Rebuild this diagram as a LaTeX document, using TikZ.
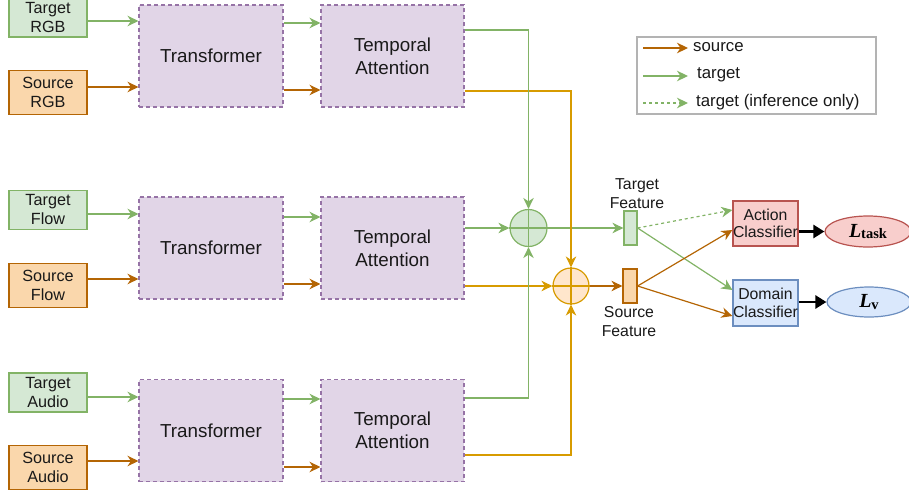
\documentclass[tikz,border=0pt]{standalone}
\usepackage{fontspec}
\setmainfont{Liberation Sans}
\newfontfamily\lserif{Liberation Serif}
\usetikzlibrary{arrows.meta,shapes.geometric}

\definecolor{gfill}{HTML}{D5E8D4}
\definecolor{gline}{HTML}{82B366}
\definecolor{ofill}{HTML}{FAD7AC}
\definecolor{oline}{HTML}{B46504}
\definecolor{gold}{HTML}{D79B00}
\definecolor{ocirc}{HTML}{FFE6CC}
\definecolor{pfill}{HTML}{E1D5E7}
\definecolor{pline}{HTML}{9673A6}
\definecolor{rfill}{HTML}{F8CECC}
\definecolor{rline}{HTML}{B85450}
\definecolor{bfill}{HTML}{DAE8FC}
\definecolor{bline}{HTML}{6C8EBF}
\definecolor{legline}{HTML}{B3B3B3}

\begin{document}
\begin{tikzpicture}[x=1pt,y=-1pt,
  txt/.style={text=black!90, align=center, inner sep=0pt},
  inbox/.style={txt, draw, line width=1.2pt, minimum width=78pt,
    font=\fontsize{16.2}{19}\selectfont},
  tgtbox/.style={inbox, fill=gfill, draw=gline, minimum height=39pt},
  srcbox/.style={inbox, fill=ofill, draw=oline, minimum height=44pt},
  blk/.style={txt, draw=pline, fill=pfill, dash pattern=on 4pt off 3pt,
    line width=1.1pt, minimum height=102pt, font=\fontsize{18.8}{23}\selectfont},
  trbox/.style={blk, minimum width=144pt},
  tabox/.style={blk, minimum width=143pt},
  tip/.style={-{Stealth[length=11pt,width=10.5pt,inset=3.5pt]}},
  garr/.style={draw=gline, line width=1.2pt, tip},
  oarr/.style={draw=oline, line width=1.2pt, tip},
  yarr/.style={draw=gold, line width=1.2pt, tip},
  gline/.style={draw=gline, line width=1.2pt},
  yline/.style={draw=gold, line width=1.2pt},
  feat/.style={draw, line width=1.2pt, minimum width=13pt, minimum height=34pt, inner sep=0pt},
  flabel/.style={txt, font=\fontsize{15.8}{19}\selectfont},
  clsbox/.style={txt, draw, line width=1.2pt, minimum width=65pt, minimum height=45pt,
    font=\fontsize{15.8}{17.5}\selectfont},
  loss/.style={ellipse, draw, line width=1.2pt, inner sep=0pt},
  thick arr/.style={draw=black, line width=2.6pt, -{Triangle[length=11pt,width=13pt]}},
  legtxt/.style={txt, anchor=west, font=\fontsize{16.8}{19}\selectfont},
]
\useasboundingbox (0,0) rectangle (909,492);

% ---- inputs ----
\node[tgtbox] (tRGB)   at (48,17.5) {Target\\RGB};
\node[srcbox] (sRGB)   at (48,92.5) {Source\\RGB};
\node[tgtbox] (tFlow)  at (48,210)  {Target\\Flow};
\node[srcbox] (sFlow)  at (48,285.5){Source\\Flow};
\node[tgtbox] (tAudio) at (48,392.5){Target\\Audio};
\node[srcbox] (sAudio) at (48,467.5){Source\\Audio};

% ---- transformer and temporal attention blocks ----
\node[trbox] (trRGB)   at (211,56)    {Transformer};
\node[trbox] (trFlow)  at (211,248)   {Transformer};
\node[trbox] (trAudio) at (211,430.5) {Transformer};
\node[tabox] (taRGB)   at (392.5,56)    {Temporal\\Attention};
\node[tabox] (taFlow)  at (392.5,248)   {Temporal\\Attention};
\node[tabox] (taAudio) at (392.5,430.5) {Temporal\\Attention};

% ---- fusion circles ----
\node[circle, minimum size=37pt, inner sep=0pt, draw=gline, fill=gfill, line width=1.2pt] (gc) at (528.5,228) {};
\node[circle, minimum size=36pt, inner sep=0pt, draw=gold, fill=ocirc, line width=1.2pt] (oc) at (571,286) {};
\draw[gline] (gc.north) -- (gc.south) (gc.west) -- (gc.east);
\draw[yline] (oc.north) -- (oc.south) (oc.west) -- (oc.east);

% ---- features ----
\node[feat, fill=gfill, draw=gline] (tfeat) at (630.5,228) {};
\node[feat, fill=ofill, draw=oline, minimum width=14pt] (sfeat) at (630,286) {};
\node[flabel, anchor=south] (tflab) at (637,209) {Target\\Feature};
\node[flabel, anchor=north] (sflab) at (629,306) {Source\\Feature};

% ---- classifiers and losses ----
\node[clsbox, fill=rfill, draw=rline] (act) at (765.5,223.5) {Action\\Classifier};
\node[clsbox, fill=bfill, draw=bline, minimum height=46pt] (dom) at (765.5,303) {Domain\\Classifier};
\node[loss, fill=rfill, draw=rline, minimum width=86pt, minimum height=31pt] (ltask) at (868,231.5)
  {{\lserif\bfseries\itshape\fontsize{20}{20}\selectfont L}\raisebox{-0.35ex}{\lserif\bfseries\fontsize{14.5}{14.5}\selectfont task}};
\node[loss, fill=bfill, draw=bline, minimum width=84pt, minimum height=30pt] (lv) at (869,302)
  {{\lserif\bfseries\itshape\fontsize{20}{20}\selectfont L}\raisebox{-0.35ex}{\lserif\bfseries\fontsize{14.5}{14.5}\selectfont v}};

% ---- RGB stream ----
\draw[garr] (tRGB.east |- 0,21) -- (trRGB.west |- 0,21);
\draw[oarr] (sRGB.east |- 0,87) -- (trRGB.west |- 0,87);
\draw[garr] (trRGB.east |- 0,23) -- (taRGB.west |- 0,23);
\draw[oarr] (trRGB.east |- 0,90) -- (taRGB.west |- 0,90);

% ---- Flow stream ----
\draw[garr] (tFlow.east |- 0,214) -- (trFlow.west |- 0,214);
\draw[oarr] (sFlow.east |- 0,279) -- (trFlow.west |- 0,279);
\draw[garr] (trFlow.east |- 0,217) -- (taFlow.west |- 0,217);
\draw[oarr] (trFlow.east |- 0,284) -- (taFlow.west |- 0,284);

% ---- Audio stream ----
\draw[garr] (tAudio.east |- 0,397) -- (trAudio.west |- 0,397);
\draw[oarr] (sAudio.east |- 0,461) -- (trAudio.west |- 0,461);
\draw[garr] (trAudio.east |- 0,399) -- (taAudio.west |- 0,399);
\draw[oarr] (trAudio.east |- 0,467) -- (taAudio.west |- 0,467);

% ---- routing into the fusion circles ----
\draw[yarr] (taFlow.east |- 0,286) -- (oc.west);
\draw[yarr] (taRGB.east |- 0,91) -| (oc.north);
\draw[garr] (taRGB.east |- 0,30) -| (gc.north);
\draw[garr] (taAudio.east |- 0,398) -| (gc.south);
\draw[garr] (taFlow.east |- 0,228) -- (gc.west);
\draw[garr] (gc.east) -- (tfeat.west);
\draw[yarr] (taAudio.east |- 0,455) -| (oc.south);
\draw[yline] (oc.north |- 0,200) -- (oc.north |- 0,240);
\draw[oarr] (oc.east) -- (sfeat.west);

% ---- features to classifiers ----
\draw[garr, dashed] (tfeat.east) -- (act.west |- 0,210);
\draw[garr] (tfeat.east) -- (dom.west |- 0,290);
\draw[oarr] (sfeat.east) -- (act.west |- 0,230);
\draw[oarr] (sfeat.east) -- (dom.west |- 0,316);

% ---- classifiers to losses ----
\draw[thick arr] (act.east |- ltask.west) -- (ltask.west);
\draw[thick arr] (dom.east |- lv.west) -- (lv.west);

% ---- legend ----
\draw[legline, line width=1.1pt] (637,37) rectangle (876,114);
\coordinate (ls1) at (643,48);  \coordinate (ls2) at (688,48);
\coordinate (lt1) at (643,76);  \coordinate (lt2) at (688,76);
\coordinate (ld1) at (643,103); \coordinate (ld2) at (688,103);
\draw[oarr] (ls1) -- (ls2);
\draw[garr] (lt1) -- (lt2);
\draw[garr, dashed] (ld1) -- (ld2);
\node[legtxt] (lgsrc) at (693,47) {source};
\node[legtxt] (lgtgt) at (697,75) {target};
\node[legtxt] (lgdash) at (696,102) {target (inference only)};
\end{tikzpicture}
\end{document}
